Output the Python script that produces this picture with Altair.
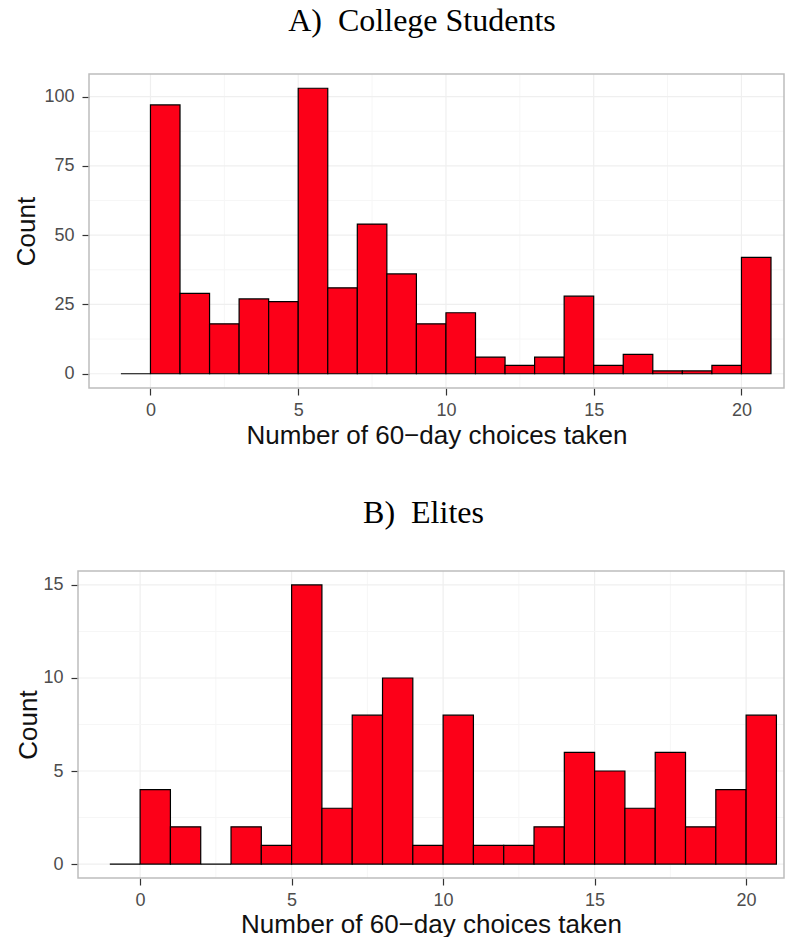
import altair as alt
import pandas as pd

# ---- data ----
bin_starts = list(range(-1, 21))          # 1-wide bins [-1,0), [0,1), ... [20,21)
college_counts = [0, 97, 29, 18, 27, 26, 103, 31, 54, 36, 18, 22, 6, 3, 6, 28, 3, 7, 1, 1, 3, 42]
elite_counts = [0, 4, 2, 0, 2, 1, 15, 3, 8, 10, 1, 8, 1, 1, 2, 6, 5, 3, 6, 2, 4, 8]

x_ticks = [0, 5, 10, 15, 20]
x_minor = [2.5, 7.5, 12.5, 17.5]
college_y_ticks = [0, 25, 50, 75, 100]
college_y_minor = [12.5, 37.5, 62.5, 87.5]
elite_y_ticks = [0, 5, 10, 15]
elite_y_minor = [2.5, 7.5, 12.5]

# axis limits (ggplot-style 5% expansion; right side cut like the reference)
college_x_limits = [-2.08, 21.44]
college_y_limits = [-5.15, 108.15]
elite_x_limits = [-2.05, 21.25]
elite_y_limits = [-0.75, 15.75]

x_title = "Number of 60\u2212day choices taken"
BAR_FILL = "#FC0018"
SANS = "Liberation Sans"
SERIF = "Liberation Serif"
BORDER = "#BDBDBD"
PANEL_W = 706


def panel(counts, title, title_dx, title_offset, xdom, ydom, yticks, yminor,
          height, ytitle_x, left_inset, xtitle_y):
    df = pd.DataFrame({"start": bin_starts, "count": counts})
    df["end"] = df["start"] + 1

    xs = alt.Scale(domain=xdom, nice=False, zero=False, range=[left_inset, PANEL_W])
    ys = alt.Scale(domain=ydom, nice=False, zero=False)

    x_axis = alt.Axis(values=x_ticks, grid=False, domain=False,
                      tickColor="#333333", tickSize=7, tickWidth=1.2,
                      labelFont=SANS, labelFontSize=18, labelColor="#4D4D4D",
                      labelPadding=6, title=x_title, titleFont=SANS,
                      titleFontSize=26, titleFontWeight="normal", titleColor="#111111",
                      titleBaseline="alphabetic", titleY=xtitle_y)
    y_axis = alt.Axis(values=yticks, grid=False, domain=False, offset=-left_inset,
                      tickColor="#333333", tickSize=7, tickWidth=1.2,
                      labelFont=SANS, labelFontSize=18, labelColor="#4D4D4D",
                      labelPadding=8, title="Count", titleFont=SANS,
                      titleFontSize=26, titleFontWeight="normal", titleColor="#111111",
                      titleAngle=270, titleBaseline="alphabetic", titleAlign="center",
                      titleX=ytitle_x, titleY=height / 2)

    vmaj = alt.Chart(pd.DataFrame({"g": x_ticks})).mark_rule(
        color="#EFEFEF", strokeWidth=1.2).encode(
        x=alt.X("g:Q", scale=xs, axis=x_axis))
    vmin = alt.Chart(pd.DataFrame({"g": x_minor})).mark_rule(
        color="#F6F6F6", strokeWidth=1).encode(
        x=alt.X("g:Q", scale=xs, axis=x_axis))
    hmaj = alt.Chart(pd.DataFrame({"g": yticks})).mark_rule(
        color="#EFEFEF", strokeWidth=1.2).encode(
        y=alt.Y("g:Q", scale=ys, axis=y_axis),
        x=alt.datum(xdom[0]), x2=alt.datum(xdom[1]))
    hmin = alt.Chart(pd.DataFrame({"g": yminor})).mark_rule(
        color="#F6F6F6", strokeWidth=1).encode(
        y=alt.Y("g:Q", scale=ys, axis=y_axis),
        x=alt.datum(xdom[0]), x2=alt.datum(xdom[1]))

    bars = alt.Chart(df).mark_rect(fill=BAR_FILL, stroke="black", strokeWidth=1.2).encode(
        x=alt.X("start:Q", scale=xs, axis=x_axis),
        x2="end:Q",
        y=alt.Y("count:Q", scale=ys, axis=y_axis),
        y2=alt.datum(0),
    )

    lim = pd.DataFrame({"x0": [xdom[0]], "x1": [xdom[1]], "y0": [ydom[0]], "y1": [ydom[1]]})
    border = alt.Chart(lim).mark_rect(fill="transparent", stroke=BORDER, strokeWidth=1.5).encode(
        x=alt.X("x0:Q", scale=xs, axis=x_axis), x2="x1:Q",
        y=alt.Y("y0:Q", scale=ys, axis=y_axis), y2="y1:Q",
    )

    return alt.layer(vmin, vmaj, hmin, hmaj, bars, border).properties(
        width=PANEL_W, height=height,
        title=alt.TitleParams(title, font=SERIF, fontSize=32, fontWeight="normal",
                              color="black", anchor="middle", frame="group",
                              offset=title_offset, dx=title_dx, baseline="alphabetic"),
    )


pa = panel(college_counts, "A)\u00a0 College Students", -9, 10, college_x_limits, college_y_limits,
           college_y_ticks, college_y_minor, 314, -55, 11, 55)
pb = panel(elite_counts, "B)\u00a0 Elites", -7.5, 15, elite_x_limits, elite_y_limits,
           elite_y_ticks, elite_y_minor, 307, -42, 0, 54)

chart = alt.concat(pa, pb, columns=1, spacing=49).properties(
    padding={"left": 5, "top": -3, "right": 0, "bottom": 0},
    background="white",
).configure_view(strokeWidth=0)

chart.save("out.html", embed_options={"renderer": "svg", "actions": False})
